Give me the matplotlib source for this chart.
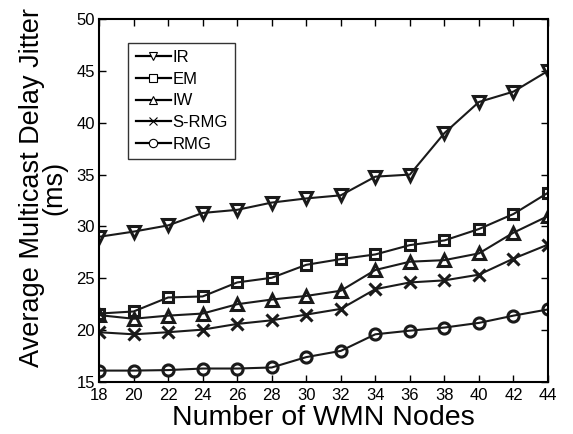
import matplotlib
matplotlib.use("Agg")
import matplotlib.pyplot as plt
from matplotlib.lines import Line2D

plt.rcParams['font.family'] = ['Liberation Sans', 'DejaVu Sans']

nodes = [18, 20, 22, 24, 26, 28, 30, 32, 34, 36, 38, 40, 42, 44]
ir = [29.0, 29.5, 30.1, 31.3, 31.6, 32.3, 32.7, 33.0, 34.8, 35.0, 39.0, 42.0, 43.0, 45.0]
em = [21.6, 21.8, 23.15, 23.25, 24.6, 25.05, 26.3, 26.85, 27.3, 28.2, 28.65, 29.75, 31.2, 33.25]
iw = [21.45, 21.1, 21.4, 21.6, 22.5, 22.95, 23.3, 23.8, 25.8, 26.6, 26.75, 27.4, 29.4, 31.0]
srmg = [19.8, 19.6, 19.8, 20.05, 20.6, 20.95, 21.5, 22.05, 23.95, 24.6, 24.8, 25.35, 26.9, 28.25]
rmg = [16.1, 16.1, 16.15, 16.3, 16.3, 16.4, 17.4, 18.0, 19.6, 19.95, 20.25, 20.7, 21.4, 22.0]

series = [("IR", ir, "v"), ("EM", em, "s"), ("IW", iw, "^"),
          ("S-RMG", srmg, "x"), ("RMG", rmg, "o")]

fig = plt.figure(figsize=(5.73, 4.34), dpi=100)
ax = fig.add_axes([0.1728, 0.1198, 0.7836, 0.8364])

handles = []
for name, vals, mk in series:
    ax.plot(nodes, vals, color='#1a1a1a', linewidth=1.5, marker=mk,
            markersize=8 if mk != 's' else 7, markerfacecolor='none',
            markeredgewidth=2.2, markeredgecolor='#1a1a1a')
    handles.append(Line2D([], [], color='black', linewidth=1.6, marker=mk,
                          markersize=6, markerfacecolor='white',
                          markeredgewidth=0.8, markeredgecolor='black', label=name))

ax.set_xlim(18, 44)
ax.set_ylim(15, 50)
ax.set_xticks(nodes)
ax.set_yticks([15, 20, 25, 30, 35, 40, 45, 50])
ax.tick_params(direction='in', top=True, right=True, labelsize=12, length=5, width=1)
ax.tick_params(axis='x', pad=4)
ax.tick_params(axis='y', pad=3)
for s in ax.spines.values():
    s.set_linewidth(1.5)

ax.set_xlabel("Number of WMN Nodes", fontsize=20.5, labelpad=2)
ax.set_ylabel("Average Multicast Delay Jitter\n(ms)", fontsize=19.5, linespacing=0.85)
ax.yaxis.set_label_coords(-0.07, 0.535)

leg = ax.legend(handles=handles, loc='upper left', bbox_to_anchor=(0.065, 0.935),
                fontsize=12, frameon=True, fancybox=False, handlelength=2.1,
                handletextpad=0.1, labelspacing=0.4, borderpad=0.45, borderaxespad=0)
leg.get_frame().set_edgecolor('black')
leg.get_frame().set_linewidth(1.0)

fig.savefig("out.png", dpi=100)
